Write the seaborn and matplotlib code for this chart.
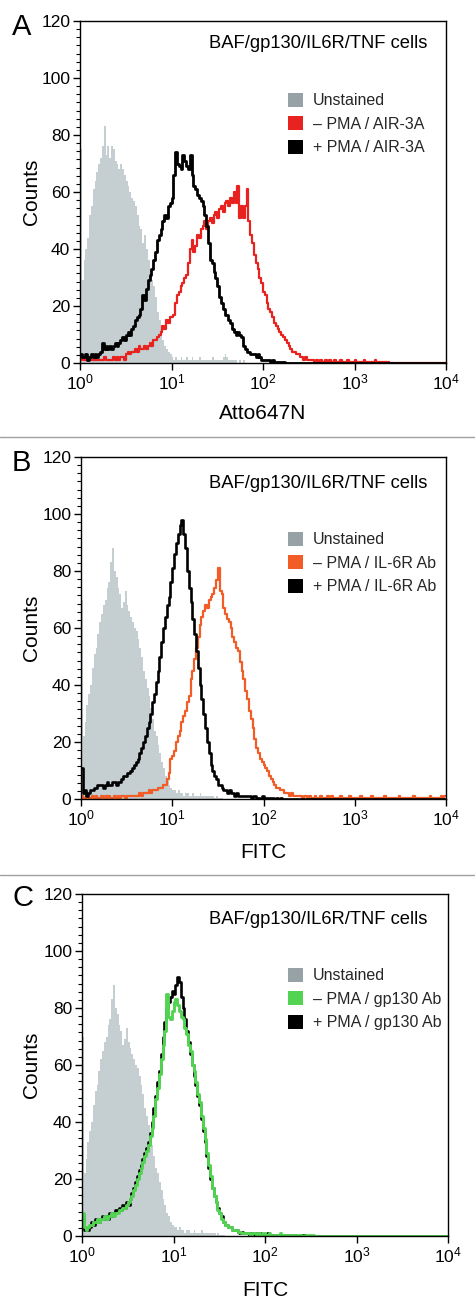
import numpy as np
import matplotlib
matplotlib.use("Agg")
import matplotlib.pyplot as plt
import seaborn as sns
from matplotlib.patches import Patch
from matplotlib.lines import Line2D
from matplotlib.ticker import FixedLocator, FixedFormatter, NullLocator, MultipleLocator

# ---------------- data (counts per 0.02-decade channel, starting at 10^0) ----------------
unst_A = [75, 29, 36, 40, 44, 52, 55, 61, 64, 67,
          70, 72, 76, 83, 73, 76, 72, 76, 75, 71,
          70, 68, 70, 68, 66, 64, 62, 60, 58, 57,
          55, 52, 48, 47, 42, 45, 40, 36, 33, 29,
          27, 23, 18, 15, 11, 8, 6, 5, 4, 3,
          2, 1, 2, 1, 1, 2, 1, 1, 2, 1,
          1, 2, 1, 1, 1, 2, 1, 1, 1, 1,
          1, 1, 2, 1, 1, 1, 1, 1, 2, 3,
          2, 1, 1, 1, 1, 1, 0, 1, 0, 1]
red_A = [1, 2, 1, 1, 1, 2, 1, 1, 1, 1, 1, 1, 1, 2, 1, 1, 1, 1, 2, 1,
         2, 1, 2, 2, 1, 3, 4, 3, 4, 4,
         5, 4, 6, 5, 5, 6, 5, 6, 7, 6,
         8, 8, 9, 10, 11, 13, 12, 15, 14, 16,
         16, 17, 21, 24, 25, 27, 28, 30, 31, 35,
         40, 43, 39, 41, 45, 44, 47, 48, 50, 47,
         50, 51, 49, 52, 53, 51, 54, 55, 53, 56,
         57, 55, 58, 56, 60, 56, 62, 51, 55, 51,
         55, 61, 50, 45, 42, 38, 35, 33, 30, 28,
         25, 24, 21, 19, 18, 16, 14, 13, 12, 11,
         10, 9, 8, 7, 6, 5, 4, 4, 3, 3,
         2, 2, 1, 2, 1, 1, 1, 1, 0.5, 1,
         0.5, 1, 0.5, 0.5, 1, 0.5, 1, 0.5, 0.5, 1,
         0.5, 0.5, 1, 0.5, 0.5, 0.5, 1, 0.5, 0.5, 0.5,
         1, 0.5, 0.5, 0.5, 0.5, 1, 0.5, 0.5, 0.5, 0.5,
         0.5, 1, 0.5, 0.5, 0.5, 0.5, 0.5, 0.5, 0.5]
black_A = [3, 2, 2, 3, 1, 2, 3, 2, 3, 2,
           3, 4, 7, 5, 6, 5, 6, 5, 6, 7,
           6, 7, 8, 9, 8, 10, 11, 10, 12, 13,
           15, 16, 17, 19, 24, 22, 26, 29, 31, 33,
           36, 39, 43, 45, 47, 50, 52, 51, 55, 56,
           58, 66, 74, 70, 69, 68, 73, 71, 69, 68,
           73, 66, 62, 61, 59, 58, 57, 55, 52, 48,
           42, 36, 35, 32, 30, 27, 23, 21, 19, 17,
           17, 15, 14, 12, 11, 10, 11, 10, 9, 6,
           5, 4, 4, 3, 3, 3, 2, 3, 2, 1,
           1, 1, 1, 1, 0.5, 1, 0.5, 0.5, 0.5, 0.5,
           0.5, 0.3]
unst_BC = [70, 22, 27, 33, 37, 40, 46, 51, 53, 58,
           62, 65, 68, 70, 74, 76, 83, 88, 80, 78,
           74, 72, 67, 69, 73, 68, 66, 64, 62, 60,
           59, 56, 53, 50, 45, 42, 39, 36, 32, 28,
           24, 22, 19, 16, 13, 11, 8, 7, 5, 4,
           3, 3, 2, 3, 2, 2, 1, 2, 2, 1,
           1, 2, 1, 1, 1, 2, 1, 1, 1, 1,
           1, 1, 1, 0.5, 1, 0.5, 0.5, 0.5]
orange_B = [1, 0.5, 0.5, 1, 0.5, 0.5, 1, 0.5, 1, 0.5, 0.5, 1, 0.5, 1, 0.5, 1, 0.5, 0.5, 1, 0.5,
            1, 0.5, 1, 1, 0.5, 1, 1, 1, 1, 1,
            1, 1, 2, 1, 2, 2, 2, 3, 2, 3,
            3, 3, 4, 4, 4, 5, 5, 7, 9, 14,
            15, 17, 20, 22, 24, 27, 29, 31, 34, 36,
            42, 45, 49, 53, 57, 61, 64, 66, 68, 67,
            70, 71, 72, 74, 77, 81, 73, 72, 67, 65,
            63, 62, 60, 57, 55, 53, 52, 48, 45, 42,
            38, 35, 31, 28, 25, 21, 18, 16, 14, 13,
            12, 11, 10, 8, 7, 6, 5, 4, 4, 3,
            3, 2, 2, 2, 1, 2, 1, 1, 1, 1,
            1, 0.5, 1, 1, 0.5, 1, 0.5, 0.5, 1, 0.5,
            0.5, 1, 0.5, 0.5, 0.5, 1, 0.5, 1, 0.5, 0.5,
            0.5, 0.5, 1, 0.5, 0.5, 0.5, 0.5, 1, 0.5, 0.5,
            0.5, 0.5, 0.5, 1, 0.5, 0.5, 0.5, 0.5, 0.5, 1,
            0.5, 0.5, 0.5, 0.5, 0.5, 0.5, 1, 0.5, 0.5, 0.5,
            0.5, 0.5, 0.5, 0.5, 1, 0.5, 0.5, 0.5, 0.5, 0.5,
            0.5, 0.5, 1, 0.5, 0.5, 0.5, 0.5, 0.5, 0.5, 0.5,
            0.5, 1, 0.5, 0.5, 0.5, 0.5, 0.5, 1, 0.5, 1]
black_B = [11, 2, 3, 1, 2, 3, 3, 4, 4, 5,
           5, 5, 4, 5, 6, 5, 5, 6, 6, 5,
           6, 6, 7, 8, 8, 9, 9, 10, 11, 12,
           13, 14, 16, 18, 20, 22, 25, 27, 30, 34,
           37, 41, 45, 50, 55, 60, 64, 68, 71, 76,
           81, 86, 90, 93, 96, 98, 93, 88, 80, 74,
           69, 63, 58, 52, 46, 40, 35, 30, 25, 20,
           16, 12, 10, 8, 7, 5, 5, 4, 3, 3,
           2, 3, 2, 2, 1, 2, 1, 1, 1, 1,
           1, 1, 1, 0.5, 1, 1, 0.5, 0.5, 0.5, 1,
           0.5, 0.5, 0.5, 0.5, 0.5, 0.5, 0, 0.5, 0, 0.5]
green_C = [8, 3, 2, 3, 4, 4, 5, 5, 6, 5,
           6, 6, 7, 6, 7, 7, 8, 7, 8, 8,
           9, 9, 10, 10, 11, 12, 13, 14, 16, 18,
           20, 22, 24, 26, 28, 30, 32, 35, 38, 42,
           48, 52, 57, 62, 67, 72, 85, 77, 76, 79,
           82, 83, 81, 79, 77, 76, 73, 71, 67, 65,
           60, 58, 54, 50, 47, 42, 38, 34, 29, 25,
           21, 17, 14, 12, 9, 8, 6, 5, 4, 4,
           3, 3, 2, 2, 2, 1.5, 1.5, 1, 1, 1,
           1, 1, 0.5, 1, 1, 0.5, 1, 0.5, 0.5, 1,
           0.5, 0.5, 1, 0.5, 0.5, 0.5, 0.5, 0.5, 1, 0.5,
           0.5, 0.5, 0, 0.5, 0.5, 0, 0.5, 0, 0.5, 0.5,
           0, 0, 0.5, 0, 0.5, 0, 0.5]
black_C = [7, 2, 3, 2, 3, 5, 4, 6, 5, 5,
           6, 7, 6, 7, 6, 8, 7, 8, 9, 9,
           10, 9, 11, 10, 12, 11, 13, 15, 17, 19,
           21, 23, 25, 27, 29, 31, 33, 36, 40, 45,
           49, 54, 58, 64, 70, 75, 80, 82, 84, 86,
           85, 88, 91, 89, 84, 80, 76, 72, 68, 64,
           60, 56, 53, 49, 46, 41, 37, 33, 28, 24,
           20, 17, 14, 12, 10, 8, 7, 5, 4, 4,
           3, 3, 2, 2, 2, 1.5, 1, 1.5, 1, 1,
           1, 0.5, 1, 1, 0.5, 1, 0.5, 1, 0.5, 0.5,
           0.5, 1, 0.5, 0.5, 0.5, 0, 0.5, 0.5, 0, 0.5,
           0, 0.5, 0, 0.5, 0, 0, 0.5, 0, 0, 0.5, 0, 0.5]

x_ticks = [1, 10, 100, 1000, 10000]
x_tick_labels = [r"$\mathregular{10^{0}}$", r"$\mathregular{10^{1}}$", r"$\mathregular{10^{2}}$",
                 r"$\mathregular{10^{3}}$", r"$\mathregular{10^{4}}$"]
y_ticks = [0, 20, 40, 60, 80, 100, 120]
cell_text = "BAF/gp130/IL6R/TNF cells"
labels_A = ["Unstained", "\u2013 PMA / AIR-3A", "+ PMA / AIR-3A"]
labels_B = ["Unstained", "\u2013 PMA / IL-6R Ab", "+ PMA / IL-6R Ab"]
labels_C = ["Unstained", "\u2013 PMA / gp130 Ab", "+ PMA / gp130 Ab"]

# ---------------- style ----------------
sns.set_theme(style="ticks")
plt.rcParams["font.family"] = ["Liberation Sans", "DejaVu Sans"]
plt.rcParams["mathtext.fontset"] = "custom"
plt.rcParams["mathtext.rm"] = "Liberation Sans"
plt.rcParams["mathtext.it"] = "Liberation Sans:italic"
plt.rcParams["mathtext.bf"] = "Liberation Sans:bold"

GRAY_FILL = "#c5ced0"
GRAY_KEY = "#96a2a6"
RED = "#e8231f"
ORANGE = "#f25c26"
GREEN = "#52d452"
BLACK = "#000000"

BIN = 0.02
NBINS = 200
edges = 10 ** (np.arange(NBINS + 1) * BIN)


def stepy(a):
    c = np.concatenate([np.asarray(a, float), np.zeros(NBINS - len(a))])
    return np.append(c, c[-1])


W, H = 475, 1313
fig = plt.figure(figsize=(W / 100, H / 100), dpi=100)
fig.patch.set_facecolor("white")

panels = [
    dict(letter="A", box=(80, 21, 446, 363), unst=unst_A,
         lines=[(red_A, RED, 1.6, 3), (black_A, BLACK, 2.0, 4)],
         keys=[GRAY_KEY, RED, BLACK], labels=labels_A, xlabel="Atto647N",
         letter_pos=(12, 13), xl_y=413, yl_x=32, leg_top=93, cell_y=44),
    dict(letter="B", box=(81, 457, 446, 799), unst=unst_BC,
         lines=[(orange_B, ORANGE, 1.6, 3), (black_B, BLACK, 1.9, 4)],
         keys=[GRAY_KEY, ORANGE, BLACK], labels=labels_B, xlabel="FITC",
         letter_pos=(12, 449), xl_y=853, yl_x=31, leg_top=532, cell_y=483),
    dict(letter="C", box=(82, 894, 448, 1236), unst=unst_BC,
         lines=[(black_C, BLACK, 1.9, 3), (green_C, GREEN, 2.1, 4)],
         keys=[GRAY_KEY, GREEN, BLACK], labels=labels_C, xlabel="FITC",
         letter_pos=(12, 884), xl_y=1291, yl_x=32, leg_top=968, cell_y=919),
]

for p in panels:
    l, t, r, b = p["box"]
    ax = fig.add_axes([l / W, 1 - b / H, (r - l) / W, (b - t) / H])
    ax.set_facecolor("white")
    ax.fill_between(edges, stepy(p["unst"]), step="post", color=GRAY_FILL, lw=0, zorder=1)
    for arr, col, lw, z in p["lines"]:
        sns.lineplot(x=edges, y=stepy(arr), drawstyle="steps-post", color=col, lw=lw,
                     estimator=None, ax=ax, zorder=z)
    ax.set_xscale("log")
    ax.set_xlim(1, 1e4)
    ax.set_ylim(0, 120)
    ax.xaxis.set_major_locator(FixedLocator(x_ticks))
    ax.xaxis.set_major_formatter(FixedFormatter(x_tick_labels))
    ax.xaxis.set_minor_locator(NullLocator())
    ax.yaxis.set_major_locator(FixedLocator(y_ticks))
    ax.yaxis.set_minor_locator(MultipleLocator(20 / 7))
    ax.tick_params(axis="both", which="major", length=5, width=1, labelsize=12.5,
                   color="black", labelcolor="black", direction="out", pad=2)
    ax.tick_params(axis="y", which="minor", length=3, width=0.8, color="black")
    for s in ax.spines.values():
        s.set_color("black")
        s.set_linewidth(1.0)
        s.set_zorder(10)

    ax.set_xlabel(p["xlabel"], fontsize=15, color="black", va="center")
    ax.xaxis.set_label_coords(0.5, -(p["xl_y"] - b) / (b - t))
    ax.set_ylabel("Counts", fontsize=15, color="black", va="center")
    ax.yaxis.set_label_coords((p["yl_x"] - l) / (r - l), 0.5)

    ax.text((427 - l) / (r - l), (b - p["cell_y"]) / (b - t), cell_text, transform=ax.transAxes,
            ha="right", va="center", fontsize=13.2, color="black")

    handles = [Patch(facecolor=c, edgecolor="none") for c in p["keys"]]
    ax.legend(handles=handles, labels=p["labels"], loc="upper left",
              bbox_to_anchor=((288 - l) / (r - l), (b - p["leg_top"]) / (b - t)),
              frameon=False, fontsize=11.5, handlelength=0.95, handleheight=0.95,
              handletextpad=0.6, labelspacing=0.5, borderpad=0, borderaxespad=0)

    fig.text(p["letter_pos"][0] / W, 1 - p["letter_pos"][1] / H, p["letter"],
             fontsize=21, ha="left", va="top", color="black")

for yy in (437, 874.5):
    fig.add_artist(Line2D([0, 1], [1 - yy / H, 1 - yy / H], transform=fig.transFigure,
                          color="#a0a0a0", lw=1.0))

fig.savefig("out.png", dpi=100, facecolor="white")
